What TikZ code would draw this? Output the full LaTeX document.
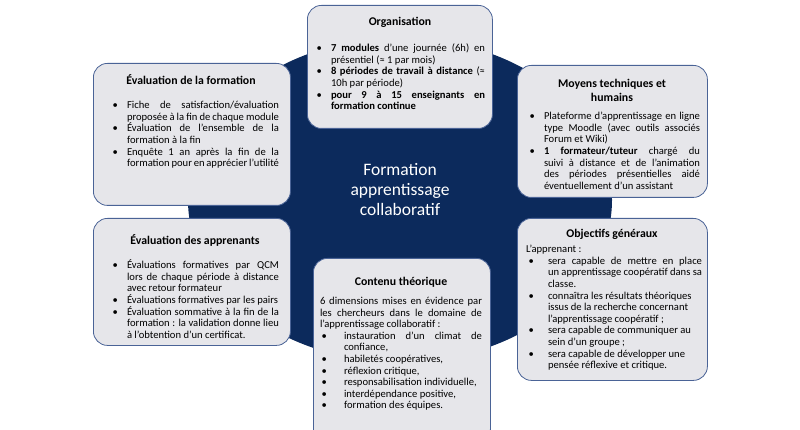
\documentclass[tikz,border=0pt]{standalone}
\usepackage{fontspec}
\setmainfont{Carlito}
\usepackage{enumitem}
\setlist[itemize]{nosep,leftmargin=16pt,label=\textbullet,labelsep=9pt}
\hyphenpenalty=10000 \exhyphenpenalty=10000
\definecolor{navy}{HTML}{0C2A5C}
\definecolor{boxfill}{HTML}{E6E6EA}
\definecolor{boxedge}{HTML}{4A6396}
\tikzset{
  box/.style={draw=boxedge, line width=0.8pt, fill=boxfill, rounded corners=14pt, anchor=north west, inner sep=0pt},
  txt/.style={anchor=north, font=\fontsize{10.6}{11.6}\selectfont, align=justify, inner sep=0pt},
  ttl/.style={font=\fontsize{11.8}{14}\selectfont\bfseries, align=center},
}
\begin{document}
\begin{tikzpicture}[x=1pt,y=-1pt]
\useasboundingbox (0,0) rectangle (800,430);
\fill[navy] (400,200) ellipse [x radius=212, y radius=162];
\node[white, align=center, font=\fontsize{17.5}{20}\selectfont] (c) at (400,190) {Formation\\apprentissage\\collaboratif};

% Organisation
\node[box, minimum width=185pt, minimum height=123pt] (o) at (307,5) {};
\node[ttl] (ot) at (400,22) {Organisation};
\node[txt, text width=170pt] (ob) at (400,40) {\begin{itemize}
\item \textbf{7 modules} d’une journée (6h) en présentiel (≈ 1 par mois)
\item \textbf{8 périodes de travail à distance} (≈ 10h par période)
\item \textbf{pour 9 à 15 enseignants en formation continue}
\end{itemize}};

% Evaluation formation
\node[box, minimum width=197pt, minimum height=142pt] (ef) at (93,63) {};
\node[ttl] (eft) at (191,80) {Évaluation de la formation};
\node[txt, text width=168pt] (efb) at (195,97) {\begin{itemize}
\item Fiche de satisfaction/évaluation proposée à la fin de chaque module
\item Évaluation de l’ensemble de la formation à la fin
\item Enquête 1 an après la fin de la formation pour en apprécier l’utilité
\end{itemize}};

% Moyens
\node[box, minimum width=190pt, minimum height=132pt] (m) at (517,65) {};
\node[ttl] (mt) at (612,90) {Moyens techniques et\\humains};
\node[txt, text width=172pt] (mb) at (614,108) {\begin{itemize}
\item Plateforme d’apprentissage en ligne type Moodle (avec outils associés Forum et Wiki)
\item \textbf{1 formateur/tuteur} chargé du suivi à distance et de l’animation des périodes présentielles aidé éventuellement d’un assistant
\end{itemize}};

% Evaluation apprenants
\node[box, minimum width=197pt, minimum height=127pt] (ea) at (93,218) {};
\node[ttl] (eat) at (195,240) {Évaluation des apprenants};
\node[txt, text width=168pt] (eab) at (195,257) {\begin{itemize}
\item Évaluations formatives par QCM lors de chaque période à distance avec retour formateur
\item Évaluations formatives par les pairs
\item Évaluation sommative à la fin de la formation : la validation donne lieu à l’obtention d’un certificat.
\end{itemize}};

% Objectifs
\node[box, minimum width=190pt, minimum height=162pt] (ob2) at (517,218) {};
\node[ttl] (obt) at (612,234) {Objectifs généraux};
\node[txt, text width=176pt] (obb) at (614,245) {L’apprenant :
\begin{itemize}[leftmargin=22pt,labelsep=14pt]
\item sera capable de mettre en place un apprentissage coopératif dans sa classe.
\item \raggedright connaîtra les résultats théoriques issus de la recherche concernant l'apprentissage coopératif ;
\item \raggedright sera capable de communiquer au sein d'un groupe ;
\item \raggedright sera capable de développer une pensée réflexive et critique.
\end{itemize}};

% Contenu
\node[box, minimum width=177pt, minimum height=185pt] (ct) at (313,258) {};
\node[ttl] (ctt) at (401,282) {Contenu théorique};
\node[txt, text width=162pt] (ctb) at (401,297) {6 dimensions mises en évidence par les chercheurs dans le domaine de l’apprentissage collaboratif :
\begin{itemize}[leftmargin=24pt,labelsep=17pt]
\item instauration d’un climat de confiance,
\item habiletés coopératives,
\item réflexion critique,
\item \raggedright responsabilisation individuelle,
\item interdépendance positive,
\item formation des équipes.
\end{itemize}};
\end{tikzpicture}
\end{document}
